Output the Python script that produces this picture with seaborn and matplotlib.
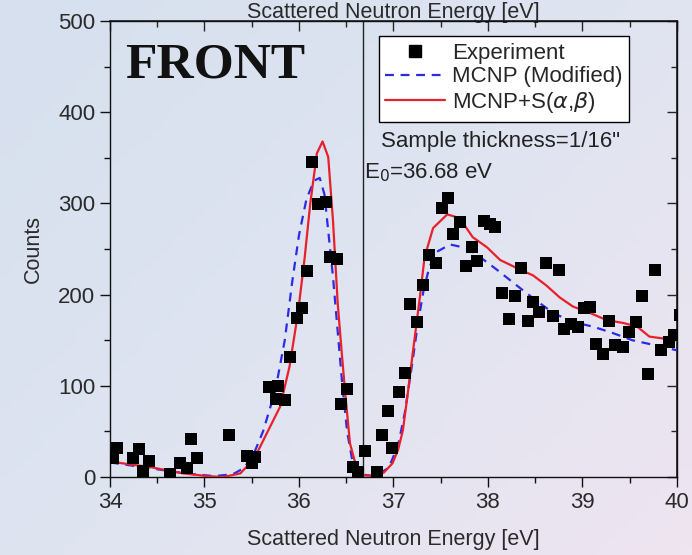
import numpy as np
import pandas as pd
import seaborn as sns
import matplotlib.pyplot as plt
from matplotlib.ticker import MultipleLocator
from matplotlib.lines import Line2D

# experiment points (energy eV, counts)
exp_energy = [34.03, 34.07, 34.24, 34.31, 34.35, 34.41, 34.63, 34.74, 34.81, 34.86,
              34.92, 35.26, 35.45, 35.50, 35.53, 35.68, 35.76, 35.78, 35.85, 35.91,
              35.98, 36.03, 36.08, 36.14, 36.20, 36.29, 36.33, 36.40, 36.44, 36.51,
              36.57, 36.62, 36.70, 36.83, 36.88, 36.94, 36.99, 37.06, 37.12, 37.18,
              37.25, 37.31, 37.38, 37.45, 37.51, 37.58, 37.63, 37.70, 37.77, 37.83,
              37.89, 37.96, 38.02, 38.08, 38.15, 38.22, 38.29, 38.35, 38.42, 38.48,
              38.54, 38.62, 38.69, 38.75, 38.81, 38.88, 38.95, 39.02, 39.08, 39.15,
              39.22, 39.28, 39.35, 39.43, 39.49, 39.57, 39.63, 39.70, 39.77, 39.83,
              39.92, 39.97, 40.03]
exp_counts = [21, 32, 21, 31, 7, 18, 3, 15, 10, 42,
              21, 46, 23, 15, 22, 99, 86, 100, 84, 132,
              174, 185, 226, 345, 299, 302, 241, 239, 80, 96,
              11, 5, 29, 6, 46, 72, 32, 93, 114, 190,
              170, 211, 243, 235, 295, 306, 267, 280, 231, 252,
              237, 281, 277, 274, 202, 173, 199, 229, 171, 192,
              181, 235, 177, 227, 162, 168, 164, 185, 187, 146,
              135, 171, 145, 143, 159, 170, 198, 113, 227, 139,
              148, 156, 178]

# MCNP (Modified)
mod_energy = [34.0, 34.4, 34.8, 35.1, 35.3, 35.42, 35.52, 35.62, 35.75, 35.85,
              35.93, 36.0, 36.08, 36.16, 36.22, 36.27, 36.31, 36.36, 36.41, 36.46,
              36.51, 36.57, 36.65, 36.8, 36.95, 37.05, 37.12, 37.2, 37.26, 37.32,
              37.38, 37.46, 37.6, 37.78, 37.92, 38.1, 38.27, 38.48, 38.69, 38.9,
              39.11, 39.32, 39.53, 39.75, 40.0]
mod_counts = [16, 10, 4, 1, 3, 10, 25, 50, 95, 150,
              215, 265, 305, 325, 328, 310, 270, 220, 160, 100,
              50, 15, 3, 1, 10, 35, 70, 125, 169, 205,
              230, 247, 255, 251, 241, 227, 213, 196, 180, 170,
              165, 158, 150, 145, 139]

# MCNP+S(a,b)
sab_energy = [34.0, 34.2, 34.42, 34.77, 35.03, 35.2, 35.38, 35.48, 35.55, 35.66,
              35.8, 35.9, 35.99, 36.06, 36.12, 36.19, 36.25, 36.31, 36.36, 36.41,
              36.45, 36.49, 36.54, 36.61, 36.68, 36.8, 36.9, 36.99, 37.05, 37.1,
              37.15, 37.2, 37.28, 37.33, 37.42, 37.57, 37.7, 37.84, 37.99, 38.13,
              38.31, 38.48, 38.62, 38.76, 38.9, 39.08, 39.26, 39.43, 39.58, 39.71,
              39.85, 40.0]
sab_counts = [17, 14, 11, 4, 1, 0, 4, 15, 25, 48,
              77, 121, 180, 240, 300, 355, 368, 351, 282, 191,
              140, 92, 37, 10, 2, 1, 5, 15, 30, 51,
              90, 132, 197, 241, 273, 288, 284, 263, 252, 238,
              229, 221, 210, 197, 187, 180, 172, 169, 165, 154,
              152, 154]

e0 = 36.68

sns.set_theme(style="ticks")
plt.rcParams['font.family'] = ['Liberation Sans', 'DejaVu Sans']

fig = plt.figure(figsize=(6.92, 5.55), dpi=100)

# soft blue-to-lavender backdrop
bg = fig.add_axes([0, 0, 1, 1], zorder=-10)
gx, gy = np.meshgrid(np.linspace(0, 1, 64), np.linspace(0, 1, 64))
bg.imshow(gx * 0.55 + gy * 0.45, cmap=sns.blend_palette(['#d6e0ee', '#dfe4f1', '#eee5f0'], as_cmap=True),
          aspect='auto', extent=[0, 1, 0, 1], origin='upper')
bg.axis('off')

ax = fig.add_axes([0.159, 0.1405, 0.819, 0.8215])
ax.patch.set_alpha(0)

exp_df = pd.DataFrame({'E': exp_energy, 'C': exp_counts})
mod_df = pd.DataFrame({'E': mod_energy, 'C': mod_counts})
sab_df = pd.DataFrame({'E': sab_energy, 'C': sab_counts})

sns.lineplot(data=mod_df, x='E', y='C', ax=ax, color='#2b2be6', lw=1.6,
             linestyle=(0, (4, 3)), sort=False, zorder=3)
sns.lineplot(data=sab_df, x='E', y='C', ax=ax, color='#e8202a', lw=1.6,
             sort=False, zorder=4)
sns.scatterplot(data=exp_df, x='E', y='C', ax=ax, marker='s', s=74, color='black',
                edgecolor='black', linewidth=0, zorder=5)

ax.axvline(e0, color='#222222', lw=1.0, zorder=2)

ax.set_xlim(34, 40)
ax.set_ylim(0, 500)
ax.xaxis.set_major_locator(MultipleLocator(1))
ax.xaxis.set_minor_locator(MultipleLocator(0.5))
ax.yaxis.set_major_locator(MultipleLocator(100))
ax.yaxis.set_minor_locator(MultipleLocator(50))
for s in ax.spines.values():
    s.set_visible(True)
    s.set_color('#111111')
    s.set_linewidth(1.0)
ax.tick_params(which='major', direction='out', length=7, width=1, colors='#111111',
               labelsize=16, labelcolor='#2a2a2a')
ax.tick_params(which='minor', direction='out', length=4, width=1, colors='#111111')
ax.set_xlabel('Scattered Neutron Energy [eV]', fontsize=15.5, color='#2a2a2a', labelpad=12)
ax.set_ylabel('Counts', fontsize=15.5, color='#2a2a2a', labelpad=10)

top = ax.secondary_xaxis('top')
top.xaxis.set_major_locator(MultipleLocator(1))
top.xaxis.set_minor_locator(MultipleLocator(0.5))
top.tick_params(which='major', direction='in', length=7, width=1, labeltop=False)
top.tick_params(which='minor', direction='in', length=4, width=1)
top.set_xlabel('Scattered Neutron Energy [eV]', fontsize=15.5, color='#2a2a2a', labelpad=-1)

right = ax.secondary_yaxis('right')
right.yaxis.set_major_locator(MultipleLocator(100))
right.yaxis.set_minor_locator(MultipleLocator(50))
right.tick_params(which='major', direction='in', length=7, width=1, labelright=False)
right.tick_params(which='minor', direction='in', length=4, width=1)

ax.text(0.026, 0.876, 'FRONT', transform=ax.transAxes, fontsize=37, fontweight='bold',
        family=['Liberation Serif', 'DejaVu Serif'], color='#111111', va='baseline')

handles = [
    Line2D([], [], marker='s', color='black', ls='none', markersize=8),
    Line2D([], [], color='#2b2be6', lw=1.6, linestyle=(0, (4, 3))),
    Line2D([], [], color='#e8202a', lw=1.6),
]
labels = ['Experiment', 'MCNP (Modified)', r'MCNP+S($\alpha$,$\beta$)']
leg = ax.legend(handles, labels, loc='upper left', bbox_to_anchor=(0.474, 0.967),
                fontsize=16, frameon=True, fancybox=False, framealpha=1,
                edgecolor='black', handlelength=2.7, handletextpad=0.3,
                borderpad=0.3, labelspacing=0.12, borderaxespad=0)
leg.get_frame().set_linewidth(1.0)

ax.text(0.478, 0.735, 'Sample thickness=1/16"', transform=ax.transAxes, fontsize=16,
        color='#222222', va='center')
ax.text(0.448, 0.667, r'E$_0$=36.68 eV', transform=ax.transAxes, fontsize=16,
        color='#222222', va='center')

fig.savefig('out.png', dpi=100)
